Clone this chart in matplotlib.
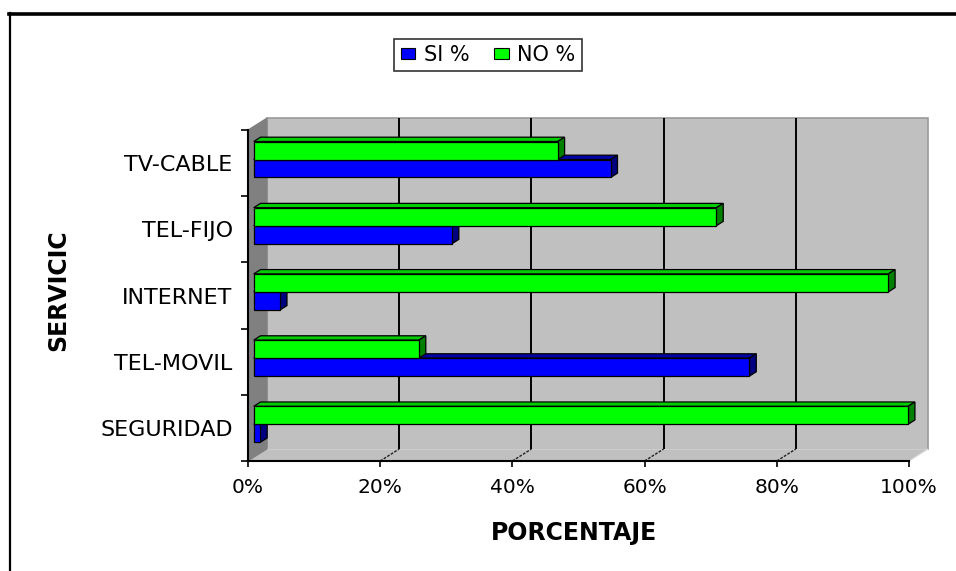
import matplotlib
matplotlib.use("Agg")
import matplotlib.pyplot as plt
from matplotlib.patches import Polygon, Patch
from matplotlib.lines import Line2D

# Services, bottom to top as they appear on the chart
servicios = ["SEGURIDAD", "TEL-MOVIL", "INTERNET", "TEL-FIJO", "TV-CABLE"]
si_pct = [1, 75, 4, 30, 54]
no_pct = [99, 25, 96, 70, 46]
x_ticks = [0, 20, 40, 60, 80, 100]
x_tick_labels = ["0%", "20%", "40%", "60%", "80%", "100%"]
serie_labels = ["SI %", "NO %"]

plt.rcParams["font.family"] = ["DejaVu Sans"]

W, H = 956, 571
fig = plt.figure(figsize=(W / 100, H / 100), dpi=100)
fig.patch.set_facecolor("white")

# front plane of the plot box, in pixels
X0, X1 = 248, 909
YT, YB = 130, 461
ax = fig.add_axes([X0 / W, (H - YB) / H, (X1 - X0) / W, (YB - YT) / H])
n = len(servicios)
ax.set_xlim(0, 100)
ax.set_ylim(-0.5, n - 0.5)
ax.set_facecolor("none")

px_x = (X1 - X0) / 100.0
px_y = (YB - YT) / n
DEPTH_PX = (19, 12)  # full depth of the 3-D box (right, up)


def off(f):
    return f * DEPTH_PX[0] / px_x, f * DEPTH_PX[1] / px_y


def poly(pts, fc, ec, lw, z):
    p = Polygon(pts, closed=True, facecolor=fc, edgecolor=ec, linewidth=lw,
                zorder=z, clip_on=False, joinstyle="miter")
    ax.add_patch(p)


dx, dy = off(1.0)
ylo, yhi = -0.5, n - 0.5

# back wall, side wall and floor
poly([(dx, ylo + dy), (100 + dx, ylo + dy), (100 + dx, yhi + dy), (dx, yhi + dy)],
     "#c0c0c0", "#9a9a9a", 1.2, 0.5)
poly([(0, ylo), (dx, ylo + dy), (dx, yhi + dy), (0, yhi)],
     "#808080", "#808080", 0.8, 0.6)
poly([(0, ylo), (100, ylo), (100 + dx, ylo + dy), (dx, ylo + dy)],
     "#c0c0c0", "#d8d8d8", 0.8, 0.55)

# gridlines on the wall and floor
for xv in x_ticks[1:-1]:
    ax.plot([xv + dx, xv + dx], [ylo + dy, yhi + dy], color="black", lw=1.4,
            zorder=0.8, clip_on=False, solid_capstyle="butt")
    ax.plot([xv, xv + dx], [ylo, ylo + dy], color="#222222", lw=1.0,
            ls=(0, (2, 1)), zorder=0.8, clip_on=False)

# bars
h = 18.0 / px_y
f1, f2 = 0.30, 0.66
styles = [
    ("#0000ff", "#0000a8", "#000080"),  # SI: front, top, side
    ("#00ff00", "#00cc00", "#008000"),  # NO
]
ax1, ay1 = off(f1)
ax2, ay2 = off(f2)
z = 2
for i in range(n):
    for k, v in enumerate((si_pct[i], no_pct[i])):
        a = i - h if k == 0 else i
        b = a + h
        front, top, side = styles[k]
        poly([(ax1, b + ay1), (v + ax1, b + ay1), (v + ax2, b + ay2), (ax2, b + ay2)],
             top, "black", 0.9, z)
        poly([(v + ax1, a + ay1), (v + ax1, b + ay1), (v + ax2, b + ay2), (v + ax2, a + ay2)],
             side, "black", 0.9, z)
        poly([(ax1, a + ay1), (v + ax1, a + ay1), (v + ax1, b + ay1), (ax1, b + ay1)],
             front, "black", 0.9, z + 0.1)
        z += 0.2

# axes
for s in ("top", "right"):
    ax.spines[s].set_visible(False)
for s in ("left", "bottom"):
    ax.spines[s].set_color("black")
    ax.spines[s].set_linewidth(1.5)
    ax.spines[s].set_zorder(10)

ax.set_xticks(x_ticks)
ax.set_xticklabels(x_tick_labels)
ax.tick_params(axis="x", direction="out", length=4, width=1.2, colors="black",
               labelsize=14.5, pad=8)
ax.set_yticks(range(n))
ax.set_yticklabels(servicios)
ax.tick_params(axis="y", which="major", length=0, labelsize=16, pad=11)
ax.set_yticks([i - 0.5 for i in range(n + 1)], minor=True)
ax.tick_params(axis="y", which="minor", direction="out", length=5, width=1.2,
               colors="black")

# axis titles
fig.text(574 / W, 1 - 533 / H, "PORCENTAJE", ha="center", va="center",
         fontsize=17, fontweight="bold")
fig.text(58 / W, 1 - 290 / H, "SERVICIC", ha="center", va="center",
         rotation=90, fontsize=17, fontweight="bold")

# legend
handles = [Patch(facecolor=styles[0][0], edgecolor="black", linewidth=0.8),
           Patch(facecolor=styles[1][0], edgecolor="black", linewidth=0.8)]
leg = fig.legend(handles, serie_labels, loc="center",
                 bbox_to_anchor=(488 / W, 1 - 55 / H), ncol=2, frameon=True,
                 fancybox=False, edgecolor="black", fontsize=15,
                 handlelength=0.7, handleheight=0.4, handletextpad=0.4,
                 columnspacing=1.2, borderpad=0.3, borderaxespad=0)
leg.get_frame().set_linewidth(1.2)

# outer frame lines
fig.add_artist(Line2D([9 / W, 1], [1 - 14 / H, 1 - 14 / H], color="black",
                      lw=2.6, transform=fig.transFigure))
fig.add_artist(Line2D([10 / W, 10 / W], [1 - 13 / H, 0], color="black",
                      lw=1.6, transform=fig.transFigure))

fig.savefig("out.png", dpi=100)
